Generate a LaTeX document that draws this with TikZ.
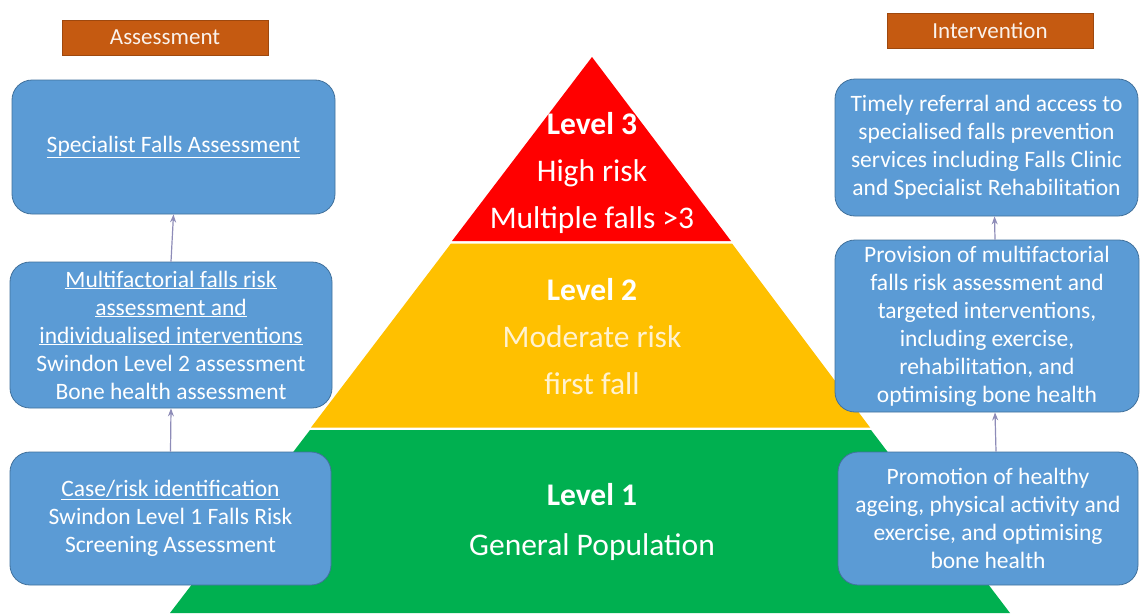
\documentclass[tikz,border=0pt]{standalone}
\usepackage{fontspec}
\setmainfont{Carlito}
\usetikzlibrary{arrows.meta}
\definecolor{boxblue}{HTML}{5B9BD5}
\definecolor{boxedge}{HTML}{41719C}
\definecolor{tagorange}{HTML}{C55A11}
\definecolor{lvred}{HTML}{FF0000}
\definecolor{lvyellow}{HTML}{FFC000}
\definecolor{lvgreen}{HTML}{00B050}
\definecolor{arrowgrey}{HTML}{8E8CB8}
\definecolor{paleyellow}{HTML}{FFF2D0}
\tikzset{
  infobox/.style={draw=boxedge, line width=0.8pt, fill=boxblue, rounded corners=20pt,
    text=white, align=center, inner sep=0pt,
    font=\fontsize{23.5}{28}\selectfont},
  tagbox/.style={draw=tagorange!80!black, line width=0.6pt, fill=tagorange, text=white!92!tagorange,
    minimum width=206pt, minimum height=35pt, inner sep=0pt,
    font=\fontsize{23}{26}\selectfont},
  levelnode/.style={text=white, align=center, inner sep=0pt,
    font=\fontsize{31.5}{47}\selectfont},
  uparrow/.style={draw=arrowgrey, line width=1.2pt, -{Stealth[length=8pt,width=6pt]}},
}
\begin{document}
\begin{tikzpicture}[x=1pt, y=-1pt]
\useasboundingbox (0,0) rectangle (1140,613);
\fill[white] (0,0) rectangle (1140,613);

% pyramid bands
\fill[lvred] (592,57) -- (731,241) -- (452,241) -- cycle;
\fill[lvyellow] (451,243.5) -- (732,243.5) -- (870,427.5) -- (311,427.5) -- cycle;
\fill[lvgreen] (310,430) -- (871,430) -- (1010,613) -- (170,613) -- cycle;

% pyramid labels
\node[levelnode] (l3) at (592,173) {\textbf{Level 3}\\High risk\\Multiple falls >3};
\node[levelnode] (l2) at (592,337) {\textbf{Level 2}\\\textcolor{paleyellow}{Moderate risk}\\\textcolor{paleyellow}{first fall}};
\node[levelnode, font=\fontsize{31.5}{50}\selectfont] (l1) at (592,522) {\textbf{Level 1}\\General Population};

% column headings
\node[tagbox] (assess) at (165,37.5) {Assessment};
\node[tagbox] (interv) at (990,30.5) {Intervention};

% assessment column
\node[infobox, minimum width=323pt, minimum height=134pt] (a3) at (173.5,147)
  {\underline{Specialist Falls Assessment}};
\node[infobox, minimum width=322pt, minimum height=146pt] (a2) at (171,335)
  {\underline{Multifactorial falls risk}\\\underline{assessment and}\\\underline{individualised interventions}\\Swindon Level 2 assessment\\Bone health assessment};
\node[infobox, minimum width=321pt, minimum height=133pt] (a1) at (170.5,518.5)
  {\underline{Case/risk identification}\\Swindon Level 1 Falls Risk\\Screening Assessment};

% intervention column
\node[infobox, minimum width=303pt, minimum height=137pt] (i3) at (986.5,147.5)
  {Timely referral and access to\\specialised falls prevention\\services including Falls Clinic\\and Specialist Rehabilitation};
\node[infobox, minimum width=304pt, minimum height=172pt] (i2) at (987,326)
  {Provision of multifactorial\\falls risk assessment and\\targeted interventions,\\including exercise,\\rehabilitation, and\\optimising bone health};
\node[infobox, minimum width=300pt, minimum height=133pt] (i1) at (988,518.5)
  {Promotion of healthy\\ageing, physical activity and\\exercise, and optimising\\bone health};

% escalation arrows
\draw[uparrow] (a1.north) -- (a2.south);
\draw[uparrow] (a2.north) -- (a3.south);
\draw[uparrow] ([xshift=8pt]i1.north) -- ([xshift=8pt]i2.south);
\draw[uparrow] ([xshift=8pt]i2.north) -- ([xshift=8pt]i3.south);
\end{tikzpicture}
\end{document}
